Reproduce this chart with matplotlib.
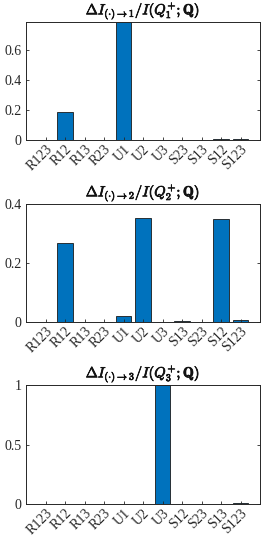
import numpy as np
import matplotlib.pyplot as plt
import matplotlib.patheffects as pe

plt.rcParams['font.family'] = ['Liberation Serif', 'DejaVu Serif']
plt.rcParams['mathtext.fontset'] = 'cm'

# data
labels1 = ['R123', 'R12', 'R13', 'R23', 'U1', 'U2', 'U3', 'S23', 'S13', 'S12', 'S123']
values1 = [0, 0.186, 0, 0, 0.80, 0, 0, 0, 0, 0.004, 0.008]

labels2 = ['R123', 'R12', 'R13', 'R23', 'U1', 'U2', 'U3', 'S13', 'S23', 'S12', 'S123']
values2 = [0, 0.268, 0, 0, 0.019, 0.354, 0, 0.002, 0, 0.348, 0.008]

labels3 = ['R123', 'R12', 'R13', 'R23', 'U1', 'U2', 'U3', 'S12', 'S23', 'S13', 'S123']
values3 = [0, 0, 0, 0, 0, 0, 1.0, 0, 0, 0, 0.01]

titles = [r'$\Delta I_{(\cdot)\to 1}/I(Q_1^{+};\mathbf{Q})$',
          r'$\Delta I_{(\cdot)\to 2}/I(Q_2^{+};\mathbf{Q})$',
          r'$\Delta I_{(\cdot)\to 3}/I(Q_3^{+};\mathbf{Q})$']
ylims = [0.79, 0.4, 1.0]
yticks = [[0, 0.2, 0.4, 0.6], [0, 0.2, 0.4], [0, 0.5, 1]]
yticklabels = [['0', '0.2', '0.4', '0.6'], ['0', '0.2', '0.4'], ['0', '0.5', '1']]

fig = plt.figure(figsize=(2.66, 5.42), dpi=100)
W, H = 266, 542
boxes = [(26, 22, 260, 140), (26, 204, 260, 322), (26, 385, 260, 504)]
axcol = '#262626'

for i, (labs, vals) in enumerate([(labels1, values1), (labels2, values2), (labels3, values3)]):
    l, t, r, b = boxes[i]
    ax = fig.add_axes([l / W, 1 - b / H, (r - l) / W, (b - t) / H])
    x = np.arange(1, len(vals) + 1)
    ax.bar(x, vals, width=0.8, color='#0072BD', edgecolor='#1a1a1a', linewidth=0.6)
    ax.set_xlim(0, 12)
    ax.set_ylim(0, ylims[i])
    ax.set_xticks(x)
    ax.set_xticklabels(labs, rotation=45, ha='right', va='top', rotation_mode='anchor')
    ax.set_yticks(yticks[i])
    ax.set_yticklabels(yticklabels[i])
    ax.tick_params(direction='in', length=2.5, width=0.6, colors=axcol, labelsize=10,
                   right=True, labelcolor='#262626')
    ax.tick_params(axis='x', pad=2)
    ax.tick_params(axis='y', pad=3)
    for s in ax.spines.values():
        s.set_color(axcol)
        s.set_linewidth(0.7)
    t_ = ax.set_title(titles[i], fontsize=10.5, pad=1.5, color='#111111')
    t_.set_path_effects([pe.withStroke(linewidth=0.5, foreground='#111111')])

fig.savefig('out.png', dpi=100)
